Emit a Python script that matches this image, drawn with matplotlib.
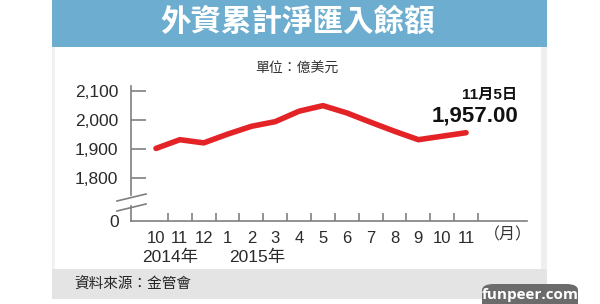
import matplotlib
matplotlib.use("Agg")
import matplotlib.pyplot as plt
from matplotlib.patches import Rectangle, FancyBboxPatch
from matplotlib.lines import Line2D

plt.rcParams['font.family'] = ['Liberation Sans', 'Noto Sans CJK TC', 'DejaVu Sans']

# --- data ---
months = ["10", "11", "12", "1", "2", "3", "4", "5", "6", "7", "8", "9", "10", "11"]
balance = [1903, 1933, 1922, 1952, 1979, 1995, 2031, 2050, 2025, 1993, 1962, 1933, 1945, 1957]
yticks = [2100, 2000, 1900, 1800]
ytick_labels = ["2,100", "2,000", "1,900", "1,800"]
years = ["2014年", "2015年"]
last_date = "11月5日"
last_value = "1,957.00"

W, H = 600, 304
fig = plt.figure(figsize=(W / 100, H / 100), dpi=100)
fig.patch.set_facecolor("white")


def fx(x):
    return x / W


def fy(y):
    return 1 - y / H


def box(x0, y0, x1, y1, color, z=0):
    fig.patches.append(Rectangle((fx(x0), fy(y1)), fx(x1) - fx(x0), fy(y0) - fy(y1),
                                 transform=fig.transFigure, color=color, zorder=z, lw=0))


# --- frame: title bar, side edges, footer ---
box(52, 0, 547, 47, "#6dadcf")
box(52, 47, 55, 269, "#f1f1f1")
box(541, 47, 547, 269, "#efefef")
box(52, 269, 547, 299, "#e4e4e4")

fig.text(fx(298), fy(23), "外資累計淨匯入餘額", color="white", fontsize=22,
         fontweight="heavy", ha="center", va="center")
fig.text(fx(255), fy(69), "單位：億美元", color="#333333", fontsize=10,
         ha="left", va="center")
fig.text(fx(74), fy(285), "資料來源：金管會", color="#222222", fontsize=10.5,
         ha="left", va="center")

# --- axes geometry: 1900 at y=149.3px, 0.291 px per unit ---
ax_l, ax_r, ax_t, ax_b = 131, 527, 86, 221
scale = 0.291
ytop = 1900 + (149.3 - ax_t) / scale
ybot = 1900 - (ax_b - 149.3) / scale
x0, dx = 156, 23.85
xl = (ax_l - x0) / dx
xr = (ax_r - x0) / dx

ax = fig.add_axes([fx(ax_l), fy(ax_b), fx(ax_r) - fx(ax_l), fy(ax_t) - fy(ax_b)])
ax.patch.set_alpha(0)
ax.set_xlim(xl, xr)
ax.set_ylim(ybot, ytop)

axis_col = "#7f7f7f"
lab_col = "#2a2a2a"
for s in ["top", "right"]:
    ax.spines[s].set_visible(False)
for s in ["left", "bottom"]:
    ax.spines[s].set_color(axis_col)
    ax.spines[s].set_linewidth(1.2)

# break in the y axis
brk_hi = 1900 - (195 - 149.3) / scale
brk_lo = 1900 - (206 - 149.3) / scale
ax.spines["left"].set_bounds(brk_hi, ytop)
ax.plot([xl, xl], [ybot, brk_lo], color=axis_col, lw=1.2, clip_on=False)
for yy in (201, 211):
    fig.lines.append(Line2D([fx(117), fx(146)], [fy(yy), fy(yy - 7)],
                            transform=fig.transFigure, color=axis_col, lw=1.2))

# y ticks
ax.set_yticks(yticks + [ybot])
ax.set_yticklabels(ytick_labels + ["0"])
ax.tick_params(axis="y", direction="in", length=11, width=1.2, color=axis_col,
               labelsize=12.5, labelcolor=lab_col, pad=9)
ax.yaxis.get_major_ticks()[-1].tick1line.set_visible(False)

# x ticks: marks between months, labels at month centres
xs = list(range(len(months)))
ax.set_xticks([i + 0.5 for i in xs])
ax.set_xticklabels([])
ax.set_xticks(xs, minor=True)
ax.set_xticklabels(months, minor=True)
ax.tick_params(axis="x", which="major", direction="in", length=6, width=1.2, color=axis_col)
ax.tick_params(axis="x", which="minor", length=0, labelsize=12, labelcolor=lab_col, pad=7)

# line
ax.plot(xs, balance, color="#e42327", lw=4, solid_capstyle="round",
        solid_joinstyle="round", zorder=3)

# annotations
fig.text(fx(517), fy(95), last_date, color="#111111", fontsize=11, fontweight="bold",
         ha="right", va="center")
fig.text(fx(518), fy(116), last_value, color="#111111", fontsize=16, fontweight="bold",
         ha="right", va="center")
fig.text(fx(508), fy(235), "（月）", color="#333333", fontsize=11.5, ha="center", va="center")
fig.text(fx(170), fy(257), years[0], color=lab_col, fontsize=12.5, ha="center", va="center")
fig.text(fx(257), fy(257), years[1], color=lab_col, fontsize=12.5, ha="center", va="center")

# watermark
fig.patches.append(FancyBboxPatch((fx(482), fy(310)), fx(96), fy(284) - fy(310),
                                  boxstyle="round,pad=0,rounding_size=0.02",
                                  transform=fig.transFigure, color="#6b6b6b", lw=0, zorder=5))
fig.text(fx(530), fy(295), "funpeer.com", color="white", fontsize=11, fontweight="bold",
         ha="center", va="center", zorder=6, family=["Open Sans", "DejaVu Sans"])

fig.savefig("out.png", dpi=100)
